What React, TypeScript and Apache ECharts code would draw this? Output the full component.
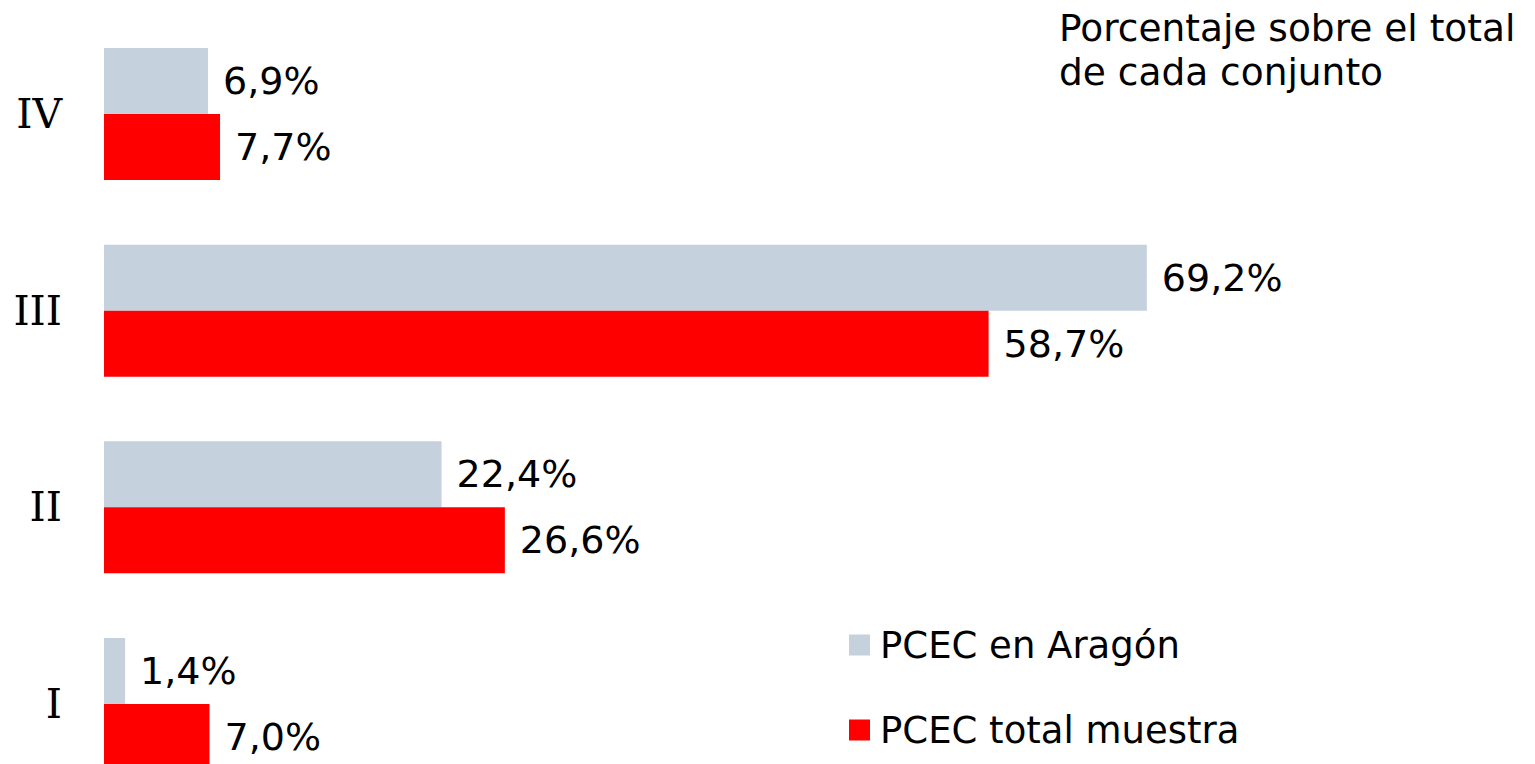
import React, { useEffect, useRef } from "react";
import * as echarts from "echarts";

const categories = ["I", "II", "III", "IV"];
const seriesNames = ["PCEC en Aragón", "PCEC total muestra"];
const aragon = [1.4, 22.4, 69.2, 6.9];
const totalMuestra = [7.0, 26.6, 58.7, 7.7];
const titleText = "Porcentaje sobre el total\nde cada conjunto";

const fmt = (p: any) => p.value.toFixed(1).replace(".", ",") + "%";

export default function App() {
  const ref = useRef<HTMLDivElement>(null);
  useEffect(() => {
    const chart = echarts.init(ref.current!, null, { renderer: "svg" });
    const sans = "'DejaVu Sans', Verdana, sans-serif";
    const labelStyle = {
      show: true,
      position: "right" as const,
      distance: 15,
      formatter: fmt,
      fontFamily: sans,
      fontSize: 38,
      color: "#000",
    };
    chart.setOption({
      animation: false,
      backgroundColor: "#fff",
      title: {
        text: titleText,
        left: 1059,
        top: 6,
        padding: 0,
        textStyle: {
          fontFamily: sans,
          fontSize: 37.5,
          fontWeight: "normal",
          color: "#000",
          lineHeight: 44,
        },
      },
      legend: {
        data: seriesNames,
        orient: "vertical",
        left: 849,
        top: 625,
        padding: 0,
        itemWidth: 21,
        itemHeight: 21,
        itemGap: 45,
        icon: "rect",
        textStyle: {
          fontFamily: sans,
          fontSize: 37,
          color: "#000",
          lineHeight: 40,
          padding: [0, 0, 0, 5],
        },
      },
      grid: { left: 104, right: 225.4, top: 15.75, bottom: 7.75, containLabel: false },
      xAxis: {
        type: "value",
        min: 0,
        max: 80,
        show: false,
      },
      yAxis: {
        type: "category",
        data: categories,
        axisLine: { show: false },
        axisTick: { show: false },
        axisLabel: {
          fontFamily: "'DejaVu Serif', 'Liberation Serif', serif",
          fontSize: 41,
          color: "#000",
          margin: 42,
        },
        splitLine: { show: false },
      },
      series: [
        {
          name: seriesNames[0],
          type: "bar",
          data: aragon,
          barWidth: 66,
          barGap: "0%",
          itemStyle: { color: "#C5D2DD" },
          label: labelStyle,
        },
        {
          name: seriesNames[1],
          type: "bar",
          data: totalMuestra,
          barWidth: 66,
          barGap: "0%",
          itemStyle: { color: "#FF0000" },
          label: labelStyle,
        },
      ],
    });
    return () => chart.dispose();
  }, []);
  return (
    <div
      ref={ref}
      style={{ position: "fixed", left: 0, top: 0, width: 1535, height: 810 }}
    />
  );
}
